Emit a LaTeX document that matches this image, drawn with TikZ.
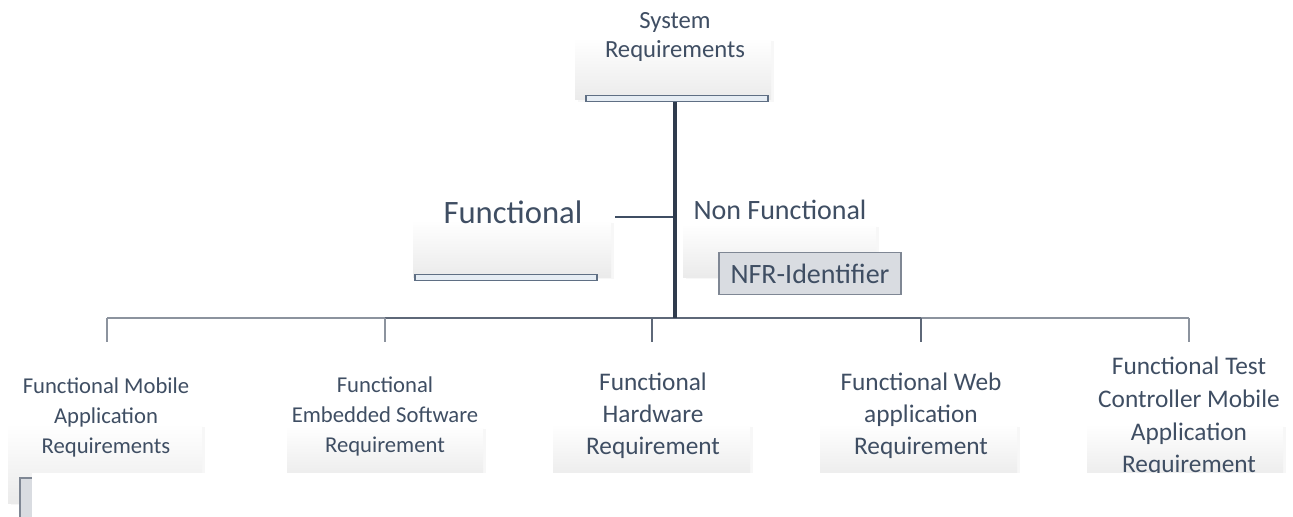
\documentclass[tikz,border=0pt]{standalone}
\usepackage{fontspec}
\setmainfont{Carlito}
\definecolor{txt}{HTML}{3F4E63}
\definecolor{trunk}{HTML}{2F3B4D}
\definecolor{busdark}{HTML}{5E6878}
\definecolor{buslight}{HTML}{8C939E}
\definecolor{barfill}{HTML}{E6EDF4}
\definecolor{barline}{HTML}{5F6F84}
\definecolor{idfill}{HTML}{D9DCE1}
\definecolor{idline}{HTML}{7F8794}
\tikzset{
  panel/.style={top color=white, bottom color=black!8, draw=none},
  panelshade/.style={fill=black!3, draw=none},
  bar/.style={fill=barfill, draw=barline, line width=1.2pt},
  lbl/.style={text=txt, align=center, inner sep=0pt},
  drop/.style={draw=buslight, line width=1.6pt},
}
\newcommand{\panelbox}[4]{%
  \fill[panelshade] (#1+3,#2+3) rectangle (#3+3,#4+2);
  \shade[panel] (#1,#2) rectangle (#3,#4);}
\begin{document}
\begin{tikzpicture}[x=0.75pt,y=-0.75pt]
\useasboundingbox (0,0) rectangle (1293,517);
\fill[white] (0,0) rectangle (1293,517);

% background panels
\panelbox{575}{38}{771}{100}
\panelbox{413}{220}{611}{277}
\panelbox{683}{224}{876}{277}
\panelbox{8}{424}{202}{503}
\panelbox{287}{426}{483}{480}
\panelbox{553}{424}{750}{480}
\panelbox{820}{424}{1017}{480}
\panelbox{1087}{424}{1283}{480}

% top node
\node[lbl, font=\fontsize{18.5}{22}\selectfont] (sys) at (675,37) {System\\Requirements};
\node[bar, minimum width=182*0.75pt, minimum height=6*0.75pt, inner sep=0pt] (sysbar) at (677,98.5) {};

% second level
\node[lbl, font=\fontsize{24.5}{29}\selectfont] (func) at (513,212) {Functional};
\node[bar, minimum width=182*0.75pt, minimum height=6*0.75pt, inner sep=0pt] (funcbar) at (506,277.5) {};
\node[lbl, font=\fontsize{21}{25}\selectfont] (nonfunc) at (780,210) {Non Functional};
\node[lbl, font=\fontsize{21}{25}\selectfont, fill=idfill, draw=idline, line width=1pt,
      minimum width=182*0.75pt, minimum height=42*0.75pt] (nfr) at (810,273.5) {NFR-Identifier};

% bus and drop points
\coordinate (trunkbot) at (675,318);
\coordinate (b1) at (107,318);
\coordinate (b2) at (385,318);
\coordinate (b3) at (652,318);
\coordinate (b4) at (921,318);
\coordinate (b5) at (1189,318);
\coordinate (junction) at (675,217);
\coordinate (funcend) at (615,217);

% third level
\node[lbl, font=\fontsize{17}{22.5}\selectfont] (mob) at (106,417) {Functional Mobile\\Application\\Requirements};
\node[lbl, font=\fontsize{17}{22.5}\selectfont] (emb) at (385,416) {Functional\\Embedded Software\\Requirement};
\node[lbl, font=\fontsize{19}{24}\selectfont] (hw) at (653,416) {Functional\\Hardware\\Requirement};
\node[lbl, font=\fontsize{19}{24}\selectfont] (web) at (921,416) {Functional Web\\application\\Requirement};
\node[lbl, font=\fontsize{19}{24.4}\selectfont] (tcm) at (1189,417) {Functional Test\\Controller Mobile\\Application\\Requirement};

% connectors
\draw[buslight, line width=2pt] (b1) -- (b2);
\draw[busdark, line width=2.2pt] (b2) -- (b4);
\draw[buslight, line width=2pt] (b4) -- (b5);
\draw[drop] (b1) -- (107,342);
\draw[drop] (b2) -- (385,342);
\draw[drop, draw=busdark] (b3) -- (652,342);
\draw[drop, draw=busdark] (b4) -- (921,342);
\draw[drop] (b5) -- (1189,342);
\draw[txt, line width=1.1pt] (funcend) -- (junction);
\draw[trunk, line width=2.4pt] (sysbar.south -| trunkbot) -- (trunkbot);

% partly hidden box at lower left
\draw[fill=idfill, draw=idline, line width=1pt] (20,478) rectangle (200,530);
% blank area over the lower part
\fill[white] (32,473) rectangle (1293,517);
\end{tikzpicture}
\end{document}
